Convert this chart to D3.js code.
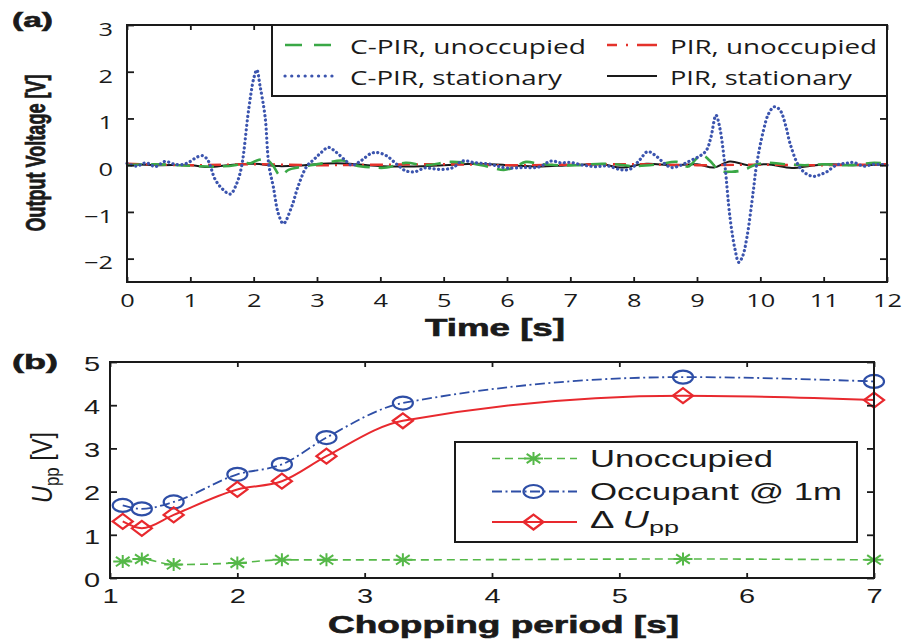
<!DOCTYPE html>
<html>
<head>
<meta charset="utf-8">
<script src="https://cdn.jsdelivr.net/npm/d3@7"></script>
<style>
  html, body { margin: 0; padding: 0; background: #fff; }
  svg { display: block; }
</style>
</head>
<body>
<svg id="fig" width="902" height="642"></svg>
<script>
// ---------- panel (a): sensor output traces, [time (s), voltage (V)] ----------
const cpirUnoccupied = [
  [0,0.0],[0.4,0.02],[0.8,0.0],[1.1,-0.02],[1.4,-0.03],[1.7,0.0],[1.85,0.05],[1.95,0.04],
  [2.05,0.1],[2.2,0.12],[2.3,0.0],[2.42,-0.22],[2.55,-0.1],[2.7,-0.05],[2.9,0.0],[3.15,0.05],
  [3.4,0.1],[3.6,0.0],[3.9,-0.05],[4.1,-0.05],[4.4,0.05],[4.7,0.0],[5.1,0.07],[5.3,0.06],
  [5.6,0.0],[5.95,-0.1],[6.1,-0.05],[6.3,0.07],[6.5,0.03],[6.8,0.0],[7.1,0.0],[7.5,0.03],
  [7.7,0.02],[8.0,-0.02],[8.4,0.02],[8.68,0.07],[8.86,-0.03],[9.0,0.15],[9.1,0.2],[9.2,0.1],
  [9.36,-0.12],[9.55,-0.14],[9.75,-0.1],[9.9,0.0],[10.1,0.05],[10.4,0.02],[10.7,0.0],
  [11.0,0.02],[11.4,0.0],[11.8,0.05],[12,0.03]
];
const cpirStationary = [
  [0,0.04],[0.15,-0.02],[0.3,0.05],[0.45,-0.03],[0.6,0.08],[0.75,0.02],[0.9,0.02],[1.0,0.08],
  [1.1,0.17],[1.2,0.2],[1.28,0.1],[1.39,-0.3],[1.5,-0.5],[1.63,-0.62],[1.73,-0.4],[1.81,-0.02],
  [1.92,1.18],[2.0,1.85],[2.05,2.04],[2.1,1.7],[2.18,1.04],[2.24,0.0],[2.31,-0.46],[2.39,-1.04],
  [2.47,-1.25],[2.6,-0.89],[2.7,-0.46],[2.84,-0.02],[2.95,0.12],[3.05,0.25],[3.18,0.38],
  [3.3,0.28],[3.45,0.1],[3.55,0.0],[3.7,0.1],[3.85,0.25],[3.95,0.27],[4.1,0.2],[4.25,0.03],
  [4.4,-0.12],[4.55,-0.14],[4.7,-0.06],[4.85,-0.08],[5.0,-0.09],[5.15,-0.05],[5.3,0.09],
  [5.5,0.05],[5.7,0.03],[5.85,-0.02],[6.0,-0.06],[6.25,-0.05],[6.5,-0.04],[6.7,0.09],
  [6.85,0.05],[7.0,0.06],[7.2,0.0],[7.4,-0.03],[7.6,-0.02],[7.8,-0.1],[7.95,-0.08],[8.1,0.12],
  [8.22,0.29],[8.35,0.2],[8.5,0.02],[8.6,-0.05],[8.75,0.0],[8.9,0.1],[9.05,0.2],[9.15,0.32],
  [9.22,0.6],[9.3,1.07],[9.36,0.8],[9.44,0.0],[9.52,-1.11],[9.6,-1.8],[9.66,-2.08],[9.72,-1.95],
  [9.79,-1.53],[9.89,-0.54],[9.94,0.0],[10.05,0.75],[10.13,1.1],[10.22,1.25],[10.31,1.18],
  [10.4,0.85],[10.47,0.46],[10.6,0.0],[10.72,-0.18],[10.84,-0.24],[10.95,-0.2],[11.05,-0.14],
  [11.2,0.0],[11.35,0.04],[11.47,0.06],[11.63,-0.02],[11.8,0.02],[12,0.0]
];
const pirUnoccupied = [
  [0,0.03],[1,0.0],[2,0.02],[3,0.0],[4,0.01],[5,0.02],[6,0.0],[7,0.01],[8,0.02],[9,0.0],
  [10,0.01],[11,0.0],[12,0.02]
];
const pirStationary = [
  [0,0.02],[0.5,0.0],[1.0,0.0],[1.3,-0.04],[1.6,0.0],[2.0,0.03],[2.4,-0.02],[2.8,0.0],
  [3.3,0.04],[3.8,0.0],[4.3,-0.03],[5,0.0],[5.5,0.03],[6,0.0],[6.5,-0.03],[7,0.0],[7.5,0.02],
  [7.8,-0.05],[8.2,0.03],[8.6,0.0],[9.0,0.02],[9.27,-0.05],[9.52,0.08],[9.8,0.0],[10.1,0.02],
  [10.5,-0.06],[10.8,-0.01],[11.1,0.02],[11.5,0.0],[12,0.02]
];
const timeTicks = [0,1,2,3,4,5,6,7,8,9,10,11,12];
const voltTicks = [-2,-1,0,1,2,3];
const legendA = ["C-PIR, unoccupied", "C-PIR, stationary", "PIR, unoccupied", "PIR, stationary"];

// ---------- panel (b): peak-to-peak voltage vs chopping period ----------
const choppingPeriod = [1.1, 1.25, 1.5, 2.0, 2.35, 2.7, 3.3, 5.5, 7.0];
const uppUnoccupied  = [0.38, 0.44, 0.31, 0.35, 0.42, 0.42, 0.42, 0.44, 0.42];
const uppOccupant    = [1.68, 1.60, 1.76, 2.40, 2.63, 3.25, 4.05, 4.65, 4.55];
const uppDelta       = [1.31, 1.15, 1.46, 2.05, 2.24, 2.82, 3.64, 4.22, 4.12];
const periodTicks = [1,2,3,4,5,6,7];
const uppTicks = [0,1,2,3,4,5];
const legendB = ["Unoccupied", "Occupant @ 1m"];

// ---------- shared styling ----------
const INK = "#1a1a1a";
const SX = 1.45;               // horizontal widening of glyphs
const GREEN_A = "#3aa846", BLUE_A = "#3b54ae", RED_A = "#e4322b";
const GREEN_B = "#55b848", BLUE_B = "#2e4ea6", RED_B = "#e8292e";
const FA = "'Open Sans', 'Liberation Sans', sans-serif";
const FB = "'Liberation Sans', Arial, sans-serif";

const svg = d3.select("#fig");
svg.append("rect").attr("width", 902).attr("height", 642).attr("fill", "#fff");

function txt(g, s, o) {
  const sx = o.sx || SX;
  const t = g.append("text")
    .attr("transform", `translate(${o.x},${o.y}) scale(${sx},1)` + (o.rot ? " rotate(-90)" : ""))
    .attr("text-anchor", o.anchor || "start")
    .attr("font-family", o.family || FB)
    .attr("font-size", o.size)
    .attr("font-weight", o.weight || "normal")
    .attr("fill", INK);
  if (o.weight === "bold") t.attr("stroke", INK).attr("stroke-width", 0.6);
  if (s !== null) t.text(s);
  if (o.len) t.attr("textLength", o.rot ? o.len : o.len / sx).attr("lengthAdjust", "spacingAndGlyphs");
  return t;
}

function frame(g, x, y, xt, yt, o) {
  const [x0, x1] = x.range(), [y0, y1] = y.range();
  const fmt = d3.format("d");
  const bottom = g.append("g").attr("transform", `translate(0,${y0})`)
    .call(d3.axisBottom(x).tickValues(xt).tickSizeInner(-5).tickSizeOuter(0).tickPadding(o.xPad)
      .tickFormat(fmt));
  const left = g.append("g").attr("transform", `translate(${x0},0)`)
    .call(d3.axisLeft(y).tickValues(yt).tickSizeInner(-7).tickSizeOuter(0).tickPadding(o.yPad)
      .tickFormat(fmt));
  g.append("g").attr("transform", `translate(0,${y1})`)
    .call(d3.axisTop(x).tickValues(xt).tickSizeInner(-5).tickSizeOuter(0).tickFormat(""));
  g.append("g").attr("transform", `translate(${x1},0)`)
    .call(d3.axisRight(y).tickValues(yt).tickSizeInner(-7).tickSizeOuter(0).tickFormat(""));
  g.selectAll(".domain").remove();
  g.selectAll(".tick line").attr("stroke", INK).attr("stroke-width", 1.8);
  g.selectAll(".tick text").attr("fill", INK).attr("font-family", o.family).attr("font-size", o.size);
  bottom.selectAll(".tick text").attr("transform", `scale(${SX},1)`);
  left.selectAll(".tick text").attr("transform", `scale(${SX},1)`)
    .attr("x", -o.yPad / SX).attr("dy", o.yDy);
  g.append("rect").attr("x", x0).attr("y", y1).attr("width", x1 - x0).attr("height", y0 - y1)
    .attr("fill", "none").attr("stroke", INK).attr("stroke-width", 2);
}

// ================= panel (a) =================
const xA = d3.scaleLinear().domain([0, 12]).range([127, 887]);
const yA = d3.scaleLinear().domain([-2.5, 3]).range([282, 25]);
const gA = svg.append("g");

const lineA = d3.line().x(d => xA(d[0])).y(d => yA(d[1])).curve(d3.curveCatmullRom.alpha(0.5));
const tracesA = [
  { data: pirStationary,  color: INK,     width: 2,   dash: null },
  { data: pirUnoccupied,  color: RED_A,   width: 2.4, dash: "13 6 2 6" },
  { data: cpirUnoccupied, color: GREEN_A, width: 2.6, dash: "15 9" },
  { data: cpirStationary, color: BLUE_A,  width: 3.2, dash: "0.1 4.4", cap: "round" }
];
tracesA.forEach(s => {
  gA.append("path").datum(s.data).attr("d", lineA)
    .attr("fill", "none").attr("stroke", s.color).attr("stroke-width", s.width)
    .attr("stroke-dasharray", s.dash).attr("stroke-linecap", s.cap || "butt")
    .attr("stroke-linejoin", "round");
});

frame(gA, xA, yA, timeTicks, voltTicks,
  { family: FA, size: 17.5, xPad: 12.5, yPad: 14, yDy: "0.59em" });

// legend (a)
const legA = gA.append("g");
legA.append("rect").attr("x", 272).attr("y", 25).attr("width", 615).attr("height", 71)
  .attr("fill", "#fff").attr("stroke", INK).attr("stroke-width", 2);
const legASamples = [
  { x: 285, y: 45, len: 47, color: GREEN_A, width: 2.6, dash: "17 12" },
  { x: 285, y: 76, len: 47, color: BLUE_A,  width: 3.2, dash: "0.1 6.6", cap: "round" },
  { x: 607, y: 45, len: 50, color: RED_A,   width: 2.4, dash: "10 9 2 9 20 40" },
  { x: 607, y: 76, len: 50, color: INK,     width: 2,   dash: null }
];
const legATextX = [350, 350, 670, 670];
const legATextW = [236, 212, 207, 182];
legASamples.forEach((s, i) => {
  legA.append("line").attr("x1", s.x).attr("x2", s.x + s.len).attr("y1", s.y).attr("y2", s.y)
    .attr("stroke", s.color).attr("stroke-width", s.width)
    .attr("stroke-dasharray", s.dash).attr("stroke-linecap", s.cap || "butt");
  txt(legA, legendA[i], { x: legATextX[i], y: s.y + 9, size: 19.5, family: FA, len: legATextW[i] });
});

// titles (a)
txt(gA, "(a)", { x: 12, y: 27, size: 21, weight: "bold", len: 41 });
txt(gA, "Time [s]", { x: 425, y: 336, size: 23, weight: "bold", len: 140 });
txt(gA, "Output Voltage [V]", { x: 45, y: 153, size: 20, weight: "bold", rot: true,
  anchor: "middle", sx: 1.35, len: 157 });

// ================= panel (b) =================
const xB = d3.scaleLinear().domain([1, 7]).range([110, 874]);
const yB = d3.scaleLinear().domain([0, 5]).range([578, 362]);
const gB = svg.append("g");

const lineB = d3.line().x(d => xB(d[0])).y(d => yB(d[1])).curve(d3.curveMonotoneX);
const zip = vals => choppingPeriod.map((p, i) => [p, vals[i]]);

function star(g, cx, cy, color) {
  const rx = 9.5, ry = 6.5, dx = rx * 0.72, dy = ry * 0.72;
  g.append("path")
    .attr("d", `M${cx - rx},${cy}H${cx + rx}M${cx},${cy - ry}V${cy + ry}` +
               `M${cx - dx},${cy - dy}L${cx + dx},${cy + dy}M${cx - dx},${cy + dy}L${cx + dx},${cy - dy}`)
    .attr("stroke", color).attr("stroke-width", 2).attr("fill", "none");
}
function ring(g, cx, cy, color) {
  g.append("ellipse").attr("cx", cx).attr("cy", cy).attr("rx", 10).attr("ry", 6.5)
    .attr("fill", "none").attr("stroke", color).attr("stroke-width", 2.2);
}
function diamond(g, cx, cy, color) {
  g.append("path")
    .attr("d", `M${cx - 10},${cy}L${cx},${cy - 7.5}L${cx + 10},${cy}L${cx},${cy + 7.5}Z`)
    .attr("fill", "none").attr("stroke", color).attr("stroke-width", 2.2);
}

const seriesB = [
  { vals: uppUnoccupied, color: GREEN_B, width: 1.6, dash: "8 5",          mark: star },
  { vals: uppOccupant,   color: BLUE_B,  width: 1.8, dash: "10 3.5 2 3.5", mark: ring },
  { vals: uppDelta,      color: RED_B,   width: 2,   dash: null,           mark: diamond }
];
seriesB.forEach(s => {
  gB.append("path").datum(zip(s.vals)).attr("d", lineB)
    .attr("fill", "none").attr("stroke", s.color).attr("stroke-width", s.width)
    .attr("stroke-dasharray", s.dash);
  const mg = gB.append("g");
  zip(s.vals).forEach(d => s.mark(mg, xB(d[0]), yB(d[1]), s.color));
});

frame(gB, xB, yB, periodTicks, uppTicks,
  { family: FB, size: 20, xPad: 10.8, yPad: 10, yDy: "0.41em" });

// legend (b)
const legB = gB.append("g");
legB.append("rect").attr("x", 455).attr("y", 442).attr("width", 402).attr("height", 100)
  .attr("fill", "#fff").attr("stroke", INK).attr("stroke-width", 2);
const legBRows = [458.5, 491.5, 522];
seriesB.forEach((s, i) => {
  const y = legBRows[i];
  legB.append("line").attr("x1", 492).attr("x2", 577).attr("y1", y).attr("y2", y)
    .attr("stroke", s.color).attr("stroke-width", s.width).attr("stroke-dasharray", s.dash);
  s.mark(legB, 533.5, y, s.color);
});
txt(legB, legendB[0], { x: 590, y: legBRows[0] + 8, size: 23, len: 183 });
txt(legB, legendB[1], { x: 590, y: legBRows[1] + 8, size: 23, len: 252 });
const dU = txt(legB, null, { x: 590, y: legBRows[2] + 6, size: 23, len: 89 });
dU.append("tspan").text("\u0394 ");
dU.append("tspan").attr("font-style", "italic").text("U");
dU.append("tspan").attr("font-size", 17).attr("dy", 5).text("pp");

// titles (b)
txt(gB, "(b)", { x: 12, y: 369, size: 21, weight: "bold", len: 46 });
txt(gB, "Chopping period [s]", { x: 328, y: 633, size: 23, weight: "bold", len: 351 });
const yl = txt(gB, null, { x: 51.5, y: 467.5, size: 21, rot: true, anchor: "middle", sx: 1.4, len: 71 });
yl.append("tspan").attr("font-style", "italic").text("U");
yl.append("tspan").attr("font-size", 15).attr("dy", 5).text("pp");
yl.append("tspan").attr("dy", -5).text(" [V]");
</script>
</body>
</html>
